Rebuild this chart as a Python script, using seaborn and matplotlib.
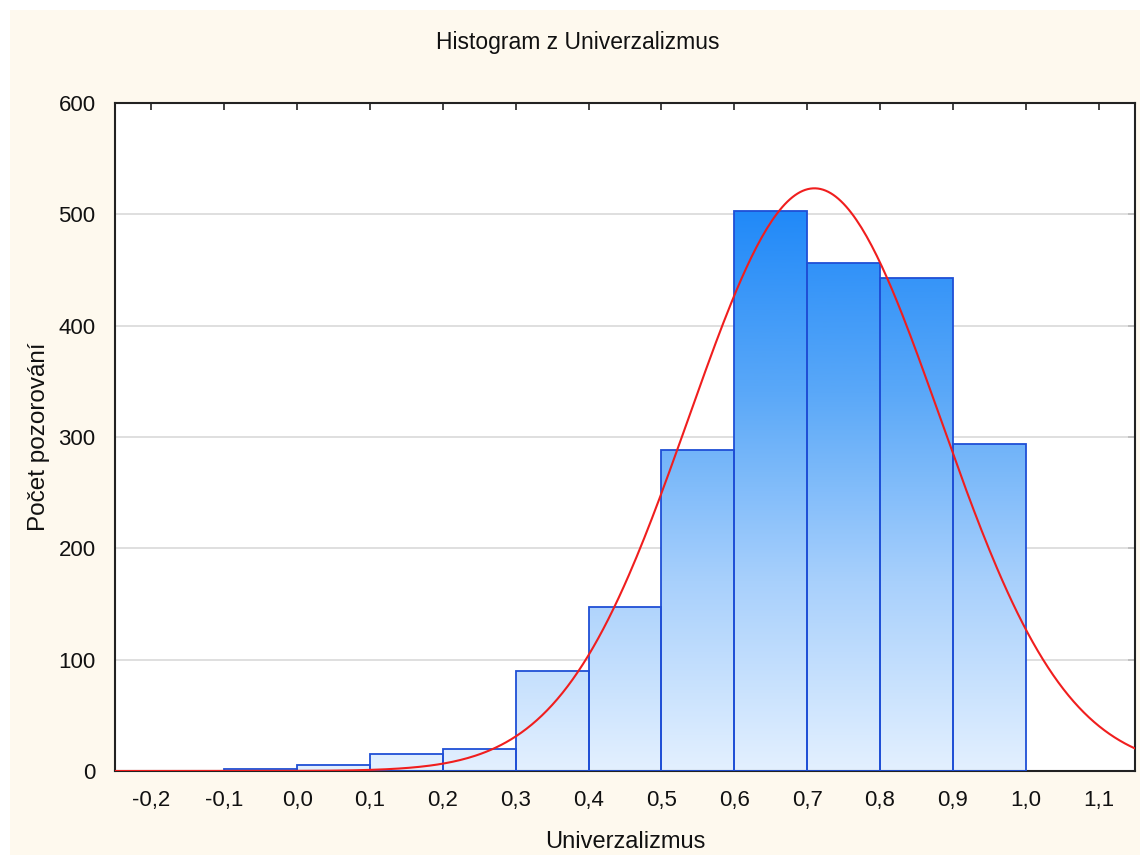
import numpy as np
import pandas as pd
import matplotlib
matplotlib.use("Agg")
import matplotlib.pyplot as plt
import seaborn as sns
from matplotlib.colors import LinearSegmentedColormap
from matplotlib.patches import Rectangle

# ---- data ----
bin_edges = [-0.1, 0.0, 0.1, 0.2, 0.3, 0.4, 0.5, 0.6, 0.7, 0.8, 0.9, 1.0]
counts = [2, 5, 15, 20, 90, 147, 288, 503, 456, 443, 294]
fit_mean = 0.71
fit_sd = 0.1725
x_ticks = [-0.2, -0.1, 0.0, 0.1, 0.2, 0.3, 0.4, 0.5, 0.6, 0.7, 0.8, 0.9, 1.0, 1.1]
x_tick_labels = ["-0,2", "-0,1", "0,0", "0,1", "0,2", "0,3", "0,4", "0,5", "0,6", "0,7", "0,8", "0,9", "1,0", "1,1"]
y_ticks = [0, 100, 200, 300, 400, 500, 600]
title = "Histogram z Univerzalizmus"
xlabel = "Univerzalizmus"
ylabel = "Počet pozorování"

sns.set_theme(style="white")
plt.rcParams['font.family'] = ['Liberation Sans', 'DejaVu Sans']

fig = plt.figure(figsize=(11.4, 8.55), dpi=100)
fig.patch.set_facecolor("white")
fig.patches.append(Rectangle((10 / 1140, 0), 1, 1 - 10 / 855, transform=fig.transFigure,
                             facecolor="#FEF9EE", edgecolor="none", zorder=-10))

ax = fig.add_axes([115 / 1140, 1 - 771 / 855, (1135 - 115) / 1140, (771 - 103) / 855])
ax.set_facecolor("white")

centers = [(bin_edges[i] + bin_edges[i + 1]) / 2 for i in range(len(counts))]
df = pd.DataFrame({"x": centers, "w": counts})
sns.histplot(data=df, x="x", weights="w", bins=bin_edges, ax=ax,
             stat="count", element="bars", fill=True,
             facecolor="none", edgecolor="#1F4FD6", linewidth=1.3, alpha=1, zorder=3)

# gradient fill clipped to each bar
cmap = LinearSegmentedColormap.from_list("blu", ["#E3F0FF", "#A8D0FC", "#5AA8F8", "#1E88F8"])
grad = np.linspace(0, 1, 256).reshape(-1, 1)
ymax_grad = 510
for p in list(ax.patches):
    im = ax.imshow(grad, cmap=cmap, aspect="auto", origin="lower",
                   extent=[-0.25, 1.15, 0, ymax_grad], zorder=2, interpolation="bilinear")
    im.set_clip_path(p)

# fitted normal curve
xs = np.linspace(-0.25, 1.15, 400)
N = sum(counts)
bw = bin_edges[1] - bin_edges[0]
ys = N * bw / (fit_sd * np.sqrt(2 * np.pi)) * np.exp(-0.5 * ((xs - fit_mean) / fit_sd) ** 2)
sns.lineplot(x=xs, y=ys, ax=ax, color="#F01E1E", linewidth=1.5, zorder=4)

ax.set_xlim(-0.25, 1.15)
ax.set_ylim(0, 600)
ax.set_xticks(x_ticks)
ax.set_xticklabels(x_tick_labels)
ax.set_yticks(y_ticks)
for yv in y_ticks[1:-1]:
    ax.axhline(yv, color="#D9D9D9", linewidth=1.2, zorder=1)

ax.tick_params(axis="both", direction="in", length=5, width=1.2, color="#222222",
               top=True, right=True, labelsize=16, labelcolor="#111111")
ax.tick_params(axis="x", pad=14)
ax.tick_params(axis="y", pad=14)
for s in ax.spines.values():
    s.set_visible(True)
    s.set_color("#222222")
    s.set_linewidth(1.5)

ax.set_xlabel(xlabel, fontsize=17, color="#111111", labelpad=14)
ax.set_ylabel(ylabel, fontsize=17.5, color="#111111", labelpad=6)
fig.text(578 / 1140, 1 - 42 / 855, title, fontsize=16.5, color="#111111", ha="center", va="center")

fig.savefig("out.png", dpi=100, facecolor=fig.get_facecolor())
